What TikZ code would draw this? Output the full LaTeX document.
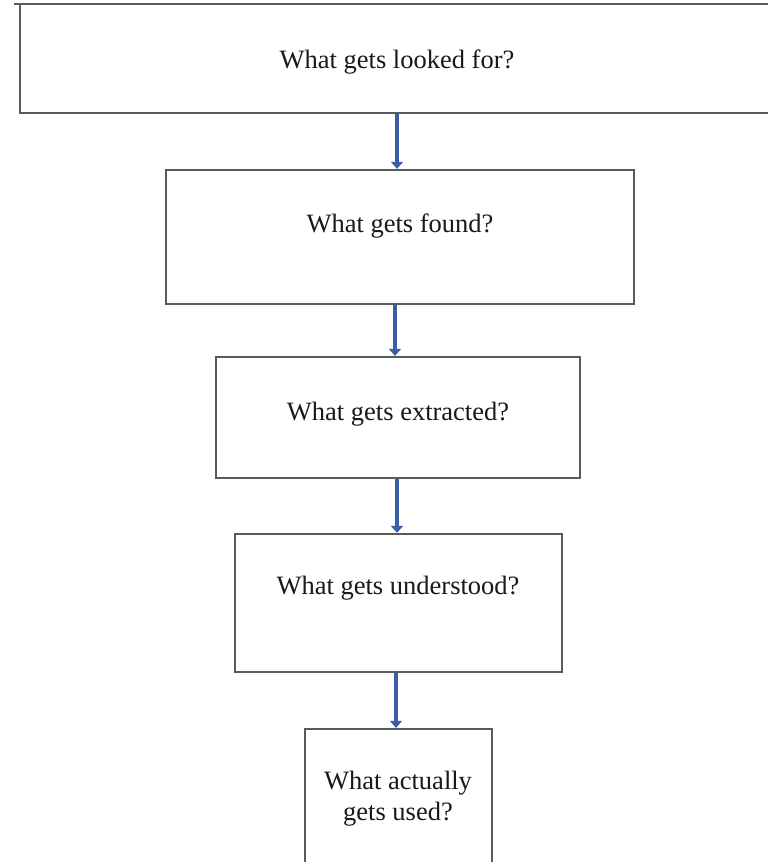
\documentclass[tikz,border=0pt]{standalone}
\usepackage{fontspec}
\setmainfont{Liberation Serif}
\usetikzlibrary{arrows.meta}
\definecolor{boxline}{HTML}{5A5A5A}
\definecolor{arrowblue}{HTML}{3A5DA8}
\tikzset{
  box/.style={draw=boxline, line width=1.3pt, rectangle, inner sep=0pt, fill=white},
  txt/.style={font=\fontsize{26.5}{31}\selectfont, text=black!90, inner sep=0pt, align=center},
  flow/.style={draw=arrowblue, line width=4pt, -{Triangle[width=12pt,length=7pt]}, shorten >=0.5pt}
}
\begin{document}
\begin{tikzpicture}[x=1pt,y=-1pt]
\useasboundingbox (0,0) rectangle (768,862);
\clip (0,0) rectangle (768,862);
% boxes
\node[box, minimum width=760pt, minimum height=109pt] (b1) at (400,58.5) {};
\draw[boxline, line width=2.2pt] (14,4) -- (780,4);
\node[box, minimum width=468pt, minimum height=134pt] (b2) at (400,237) {};
\node[box, minimum width=364pt, minimum height=121pt] (b3) at (398,417.5) {};
\node[box, minimum width=327pt, minimum height=138pt] (b4) at (398.5,603) {};
\node[box, minimum width=187pt, minimum height=150pt] (b5) at (398.5,804) {};
% texts
\node[txt] (t1) at (397,62) {What gets looked for?};
\node[txt] (t2) at (400,226) {What gets found?};
\node[txt] (t3) at (398,414) {What gets extracted?};
\node[txt] (t4) at (398,588) {What gets understood?};
\node[txt] (t5) at (398,799) {What actually\\gets used?};
% arrows
\draw[flow] (b1.south -| 397,0) -- (b2.north -| 397,0);
\draw[flow] (b2.south -| 395,0) -- (b3.north -| 395,0);
\draw[flow] (b3.south -| 397,0) -- (b4.north -| 397,0);
\draw[flow] (b4.south -| 396,0) -- (b5.north -| 396,0);
\end{tikzpicture}
\end{document}
